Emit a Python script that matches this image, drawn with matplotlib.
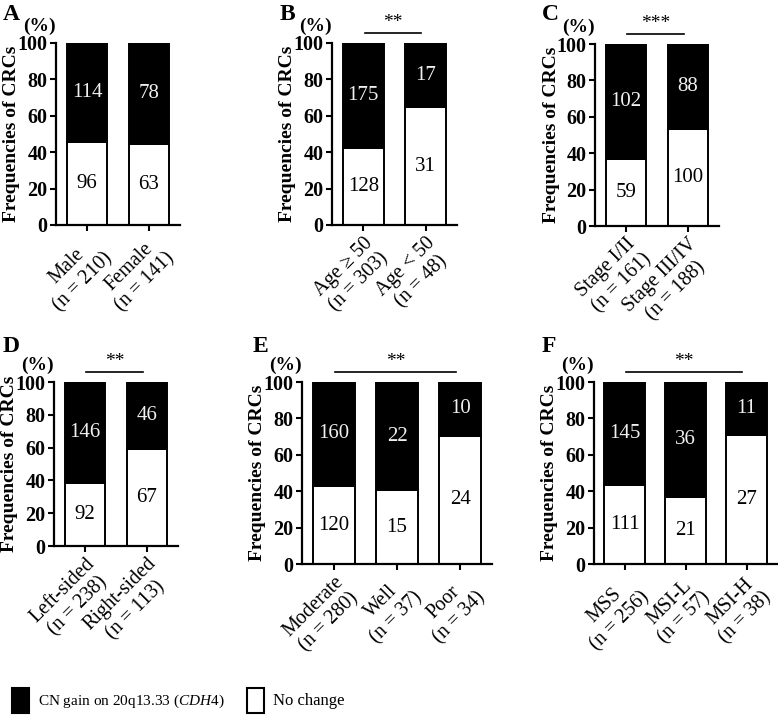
import matplotlib
matplotlib.use('Agg')
import matplotlib.pyplot as plt
from matplotlib.patches import Rectangle

plt.rcParams['font.family'] = ['Liberation Serif', 'DejaVu Serif']
plt.rcParams['mathtext.fontset'] = 'custom'
plt.rcParams['mathtext.rm'] = 'Liberation Serif'
plt.rcParams['mathtext.it'] = 'Liberation Serif:italic'

# ---------------- data ----------------
a_labels = ['Male\n(n = 210)', 'Female\n(n = 141)']
a_gain = [114, 78]
a_nochange = [96, 63]

b_labels = ['Age \u2265 50\n(n = 303)', 'Age < 50\n(n = 48)']
b_gain = [175, 17]
b_nochange = [128, 31]

c_labels = ['Stage I/II\n(n = 161)', 'Stage III/IV\n(n = 188)']
c_gain = [102, 88]
c_nochange = [59, 100]

d_labels = ['Left-sided\n(n = 238)', 'Right-sided\n(n = 113)']
d_gain = [146, 46]
d_nochange = [92, 67]

e_labels = ['Moderate\n(n = 280)', 'Well\n(n = 37)', 'Poor\n(n = 34)']
e_gain = [160, 22, 10]
e_nochange = [120, 15, 24]

f_labels = ['MSS\n(n = 256)', 'MSI-L\n(n = 57)', 'MSI-H\n(n = 38)']
f_gain = [145, 36, 11]
f_nochange = [111, 21, 27]

significance = ['', '**', '***', '**', '**', '**']
panel_letters = ['A', 'B', 'C', 'D', 'E', 'F']
ytick_values = [0, 20, 40, 60, 80, 100]

W, H = 778, 715
fig = plt.figure(figsize=(W / 100, H / 100), dpi=100)

# axes rects in pixels: left, right, top, bottom
rects = [(56, 180, 43, 225), (332, 457, 43, 225), (595, 719, 44, 226),
         (54, 178, 382, 546), (302, 492, 382, 564), (594, 777, 382, 564)]
letter_pos = [(3, 4), (280, 4), (542, 4), (3, 336), (253, 336), (542, 336)]

panels = [(a_labels, a_gain, a_nochange), (b_labels, b_gain, b_nochange),
          (c_labels, c_gain, c_nochange), (d_labels, d_gain, d_nochange),
          (e_labels, e_gain, e_nochange), (f_labels, f_gain, f_nochange)]

for i, ((labels, gain, noch), (l, r, t, b)) in enumerate(zip(panels, rects)):
    ax = fig.add_axes([l / W, 1 - b / H, (r - l) / W, (b - t) / H])
    n = len(labels)
    x = list(range(n))
    tot = [g + c for g, c in zip(gain, noch)]
    pn = [100 * c / s for c, s in zip(noch, tot)]
    pg = [100 * g / s for g, s in zip(gain, tot)]
    ax.bar(x, pn, width=0.66, color='white', edgecolor='black', linewidth=1.4, zorder=2)
    ax.bar(x, pg, bottom=pn, width=0.66, color='black', edgecolor='black', linewidth=1.4, zorder=2)
    for xi, a, g, c, ng in zip(x, pn, pg, noch, gain):
        ax.text(xi, a / 2, str(c), ha='center', va='center', fontsize=15, color='black', zorder=3)
        ax.text(xi, a + g / 2, str(ng), ha='center', va='center', fontsize=15, color='#f0f0f0', zorder=3)
    ax.set_xlim(-0.5, n - 0.5)
    ax.set_ylim(0, 100)
    ax.set_yticks(ytick_values)
    ax.set_yticklabels([str(v) for v in ytick_values], fontsize=14.5, fontweight='bold')
    ax.set_xticks(x)
    ax.set_xticklabels(labels, rotation=45, ha='right', va='top', rotation_mode='anchor',
                       multialignment='center', fontsize=14.5)
    for s in ['top', 'right']:
        ax.spines[s].set_visible(False)
    for s in ['left', 'bottom']:
        ax.spines[s].set_linewidth(1.6)
    ax.tick_params(axis='both', direction='out', length=4, width=1.5, pad=2)
    ax.set_ylabel('Frequencies of CRCs', fontsize=14, fontweight='bold', va='center')
    ax.yaxis.set_label_coords(-44 / (r - l), 0.5)
    hpx = b - t
    ax.text(0, 1 + 17 / hpx, '(%)', transform=ax.transAxes, ha='right', va='center',
            fontsize=14, fontweight='bold')
    if significance[i]:
        yl = 1 + 10 / hpx
        trans = ax.get_xaxis_transform()
        ax.plot([0.02, n - 1 - 0.07], [yl, yl], color='black', linewidth=1.2,
                transform=trans, clip_on=False)
        ax.text((n - 1) / 2 - 0.02, yl + 2 / hpx, significance[i], transform=trans,
                ha='center', va='bottom', fontsize=14)
    lx, ly = letter_pos[i]
    fig.text(lx / W, 1 - ly / H, panel_letters[i], ha='left', va='top',
             fontsize=17, fontweight='bold')

# legend
fig.patches.append(Rectangle((12 / W, 1 - 713 / H), 17 / W, 25 / H, facecolor='black',
                             edgecolor='black', linewidth=1.5, transform=fig.transFigure))
fig.patches.append(Rectangle((247 / W, 1 - 713 / H), 17 / W, 25 / H, facecolor='white',
                             edgecolor='black', linewidth=1.5, transform=fig.transFigure))
fig.text(38 / W, 1 - 701 / H, r'CN gain on 20q13.33 ($\mathit{CDH4}$)', ha='left',
         va='center', fontsize=11)
fig.text(273 / W, 1 - 701 / H, 'No change', ha='left', va='center', fontsize=12)

fig.savefig('out.png', dpi=100)
